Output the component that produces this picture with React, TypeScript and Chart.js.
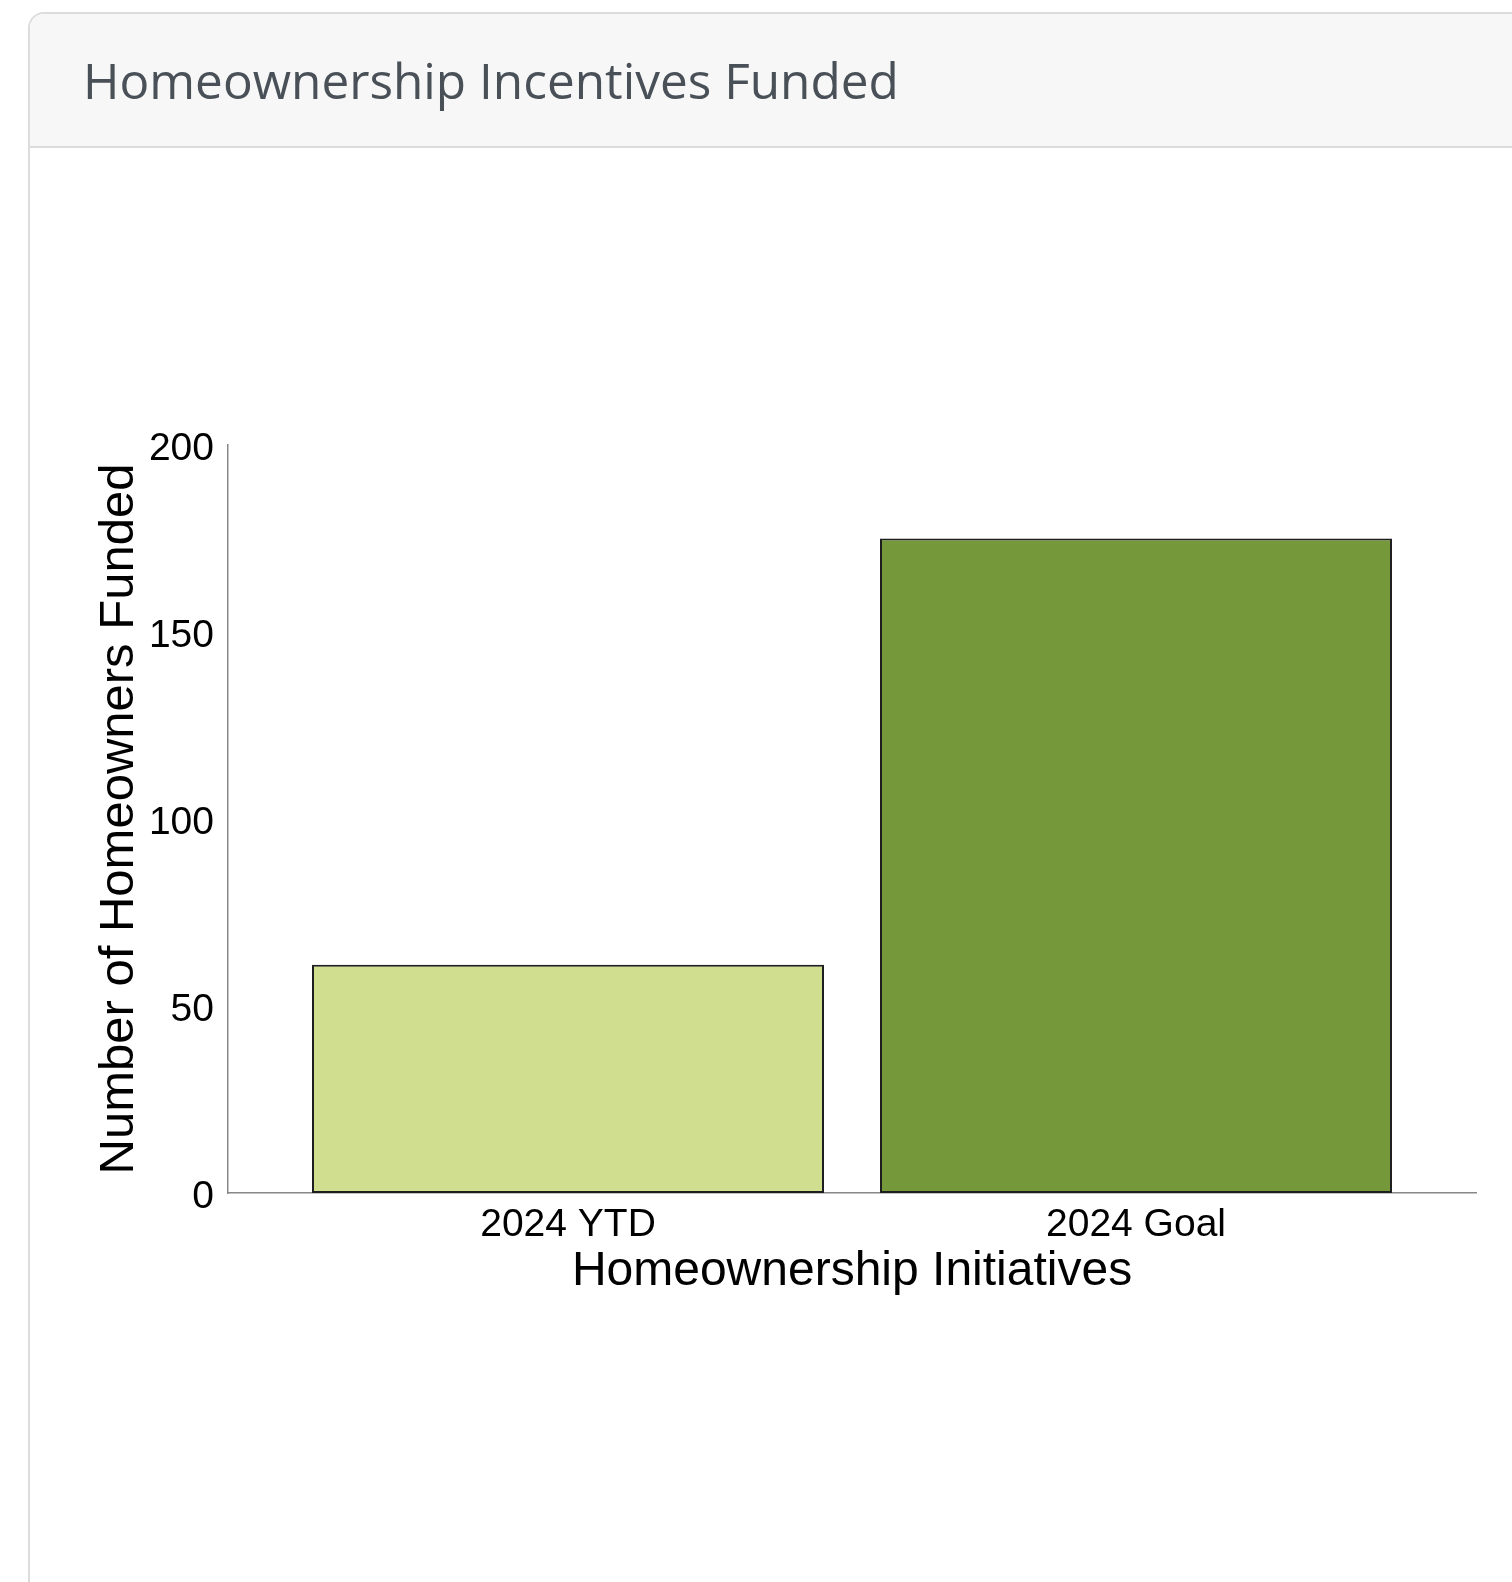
import React, { useEffect, useRef } from "react";
import { Chart, registerables } from "chart.js";

Chart.register(...registerables);

const chartTitle = "Homeownership Incentives Funded";
const xTitle = "Homeownership Initiatives";
const yTitle = "Number of Homeowners Funded";
const categories = ["2024 YTD", "2024 Goal"];
const values = [61, 175];
const barColors = ["#cfdf8f", "#75993a"];
const yTicks = [0, 50, 100, 150, 200];

const FONT = "'Liberation Sans', Arial, Helvetica, sans-serif";

export default function App() {
  const canvasRef = useRef<HTMLCanvasElement | null>(null);

  useEffect(() => {
    const canvas = canvasRef.current;
    if (!canvas) return;
    const chart = new Chart(canvas, {
      type: "bar",
      data: {
        datasets: [
          {
            data: values.map((v, i) => ({ x: i, y: v })),
            backgroundColor: barColors,
            borderColor: "#1e1e1e",
            borderWidth: 2,
            borderSkipped: false,
            barPercentage: 0.9014,
            categoryPercentage: 1,
          } as any,
        ],
      },
      options: {
        responsive: false,
        animation: false,
        devicePixelRatio: 1,
        layout: { padding: { left: 80, right: 36, top: 445, bottom: 269 } },
        plugins: {
          legend: { display: false },
          tooltip: { enabled: false },
          title: { display: false },
        },
        scales: {
          x: {
            type: "linear",
            offset: false,
            min: -0.5986,
            max: 1.5986,
            afterBuildTicks: (s: any) => {
              s.ticks = categories.map((_, i) => ({ value: i }));
            },
            afterFit: (s: any) => {
              s.height = 120;
            },
            ticks: {
              autoSkip: false,
              maxRotation: 0,
              padding: 9,
              color: "#000",
              font: { family: FONT, size: 39, lineHeight: 1.2 },
              callback: (v: any) => categories[Math.round(Number(v))] ?? "",
            },
            grid: { display: false, drawTicks: false },
            border: { display: true, color: "#888888", width: 1.5 },
            title: {
              display: true,
              text: xTitle,
              color: "#000",
              font: { family: FONT, size: 48, lineHeight: 1 },
              padding: { top: 0, bottom: 17 },
            },
          },
          y: {
            min: 0,
            max: 200,
            afterBuildTicks: (s: any) => {
              s.ticks = yTicks.map((v) => ({ value: v }));
            },
            afterFit: (s: any) => {
              s.width = 148;
            },
            ticks: {
              padding: 14,
              labelOffset: 4,
              color: "#000",
              font: { family: FONT, size: 39, lineHeight: 1.2 },
            },
            grid: { display: false, drawTicks: false },
            border: { display: true, color: "#888888", width: 1.5 },
            title: {
              display: true,
              text: yTitle,
              color: "#000",
              font: { family: FONT, size: 49, lineHeight: 1 },
              padding: { top: 14.5, bottom: 0 },
            },
          },
        },
      } as any,
    });
    return () => chart.destroy();
  }, []);

  return (
    <div
      style={{
        position: "fixed",
        left: 0,
        top: 0,
        width: 1512,
        height: 1582,
        overflow: "hidden",
        background: "#fff",
      }}
    >
      <div
        style={{
          position: "absolute",
          left: 28,
          top: 12,
          width: 1700,
          height: 1800,
          border: "2px solid #dcdcdc",
          borderRadius: 16,
          boxSizing: "border-box",
          background: "#fff",
          overflow: "hidden",
        }}
      >
        <div
          style={{
            position: "absolute",
            left: 0,
            top: 0,
            right: 0,
            height: 134,
            background: "#f7f7f7",
            borderBottom: "2px solid #dcdcdc",
            boxSizing: "border-box",
          }}
        >
          <div
            style={{
              position: "absolute",
              left: 53,
              top: 42,
              fontFamily: "'Open Sans', sans-serif",
              fontSize: 49.5,
              lineHeight: 1,
              color: "#495057",
              whiteSpace: "nowrap",
            }}
          >
            {chartTitle}
          </div>
        </div>
      </div>
      <canvas
        ref={canvasRef}
        width={1512}
        height={1582}
        style={{ position: "absolute", left: 0, top: 0, width: 1512, height: 1582 }}
      />
    </div>
  );
}
